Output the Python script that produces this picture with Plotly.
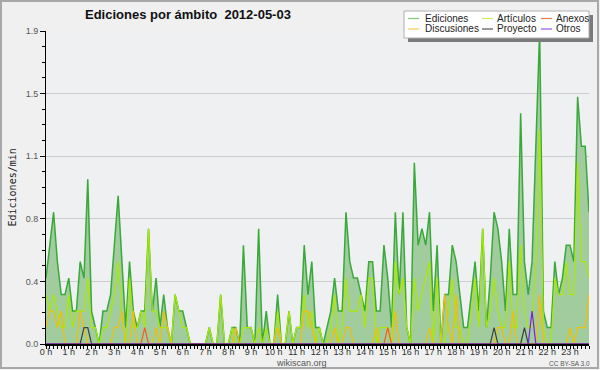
import plotly.graph_objects as go

# ---- data (values per 10-minute slot, edits/min) ----
hour_labels = [f"{h} h" for h in range(24)]
slots = [i / 6 for i in range(144)]  # hours

ediciones = [
    0.4, 0.6, 0.8, 0.5, 0.3, 0.3, 0.4, 0.2, 0.2, 0.5, 0.4, 1.0,
    0.2, 0.1, 0.0, 0.2, 0.2, 0.3, 0.6, 0.9, 0.5, 0.1, 0.5, 0.2,
    0.1, 0.2, 0.2, 0.7, 0.2, 0.4, 0.1, 0.3, 0.1, 0.0, 0.3, 0.2,
    0.2, 0.1, 0.0, 0.0, 0.0, 0.0, 0.0, 0.1, 0.0, 0.0, 0.3, 0.0,
    0.0, 0.1, 0.1, 0.0, 0.6, 0.1, 0.1, 0.0, 0.7, 0.0, 0.2, 0.0,
    0.0, 0.3, 0.0, 0.0, 0.2, 0.0, 0.1, 0.1, 0.6, 0.3, 0.5, 0.1,
    0.1, 0.0, 0.1, 0.2, 0.4, 0.2, 0.2, 0.8, 0.5, 0.4, 0.4, 0.3,
    0.2, 0.5, 0.5, 0.2, 0.2, 0.6, 0.4, 0.1, 0.8, 0.3, 0.8, 0.1,
    0.0, 1.1, 0.6, 0.7, 0.6, 0.8, 0.2, 0.6, 0.0, 0.3, 0.3, 0.6,
    0.5, 0.3, 0.1, 0.1, 0.3, 0.5, 0.2, 0.7, 0.1, 0.4, 0.8, 0.7,
    0.5, 0.2, 0.7, 0.3, 0.3, 1.4, 0.5, 0.3, 0.5, 1.2, 1.9, 0.2,
    0.1, 0.1, 0.5, 0.3, 0.4, 0.6, 0.6, 0.5, 1.5, 1.2, 1.2, 0.8,
]
articulos = [
    0.3, 0.2, 0.3, 0.2, 0.1, 0.1, 0.3, 0.1, 0.2, 0.2, 0.2, 0.4,
    0.1, 0.1, 0.0, 0.1, 0.1, 0.2, 0.3, 0.5, 0.2, 0.0, 0.4, 0.1,
    0.1, 0.2, 0.1, 0.7, 0.2, 0.2, 0.1, 0.1, 0.1, 0.0, 0.3, 0.2,
    0.1, 0.1, 0.0, 0.0, 0.0, 0.0, 0.0, 0.1, 0.0, 0.0, 0.3, 0.0,
    0.0, 0.1, 0.0, 0.0, 0.1, 0.1, 0.1, 0.0, 0.1, 0.0, 0.1, 0.0,
    0.0, 0.2, 0.0, 0.0, 0.2, 0.0, 0.1, 0.1, 0.3, 0.1, 0.2, 0.0,
    0.1, 0.0, 0.0, 0.1, 0.3, 0.0, 0.1, 0.4, 0.2, 0.2, 0.2, 0.3,
    0.1, 0.4, 0.4, 0.0, 0.1, 0.1, 0.1, 0.0, 0.5, 0.3, 0.4, 0.1,
    0.0, 0.4, 0.2, 0.3, 0.4, 0.5, 0.0, 0.4, 0.0, 0.0, 0.2, 0.4,
    0.1, 0.1, 0.0, 0.0, 0.2, 0.4, 0.1, 0.7, 0.1, 0.2, 0.4, 0.2,
    0.1, 0.1, 0.5, 0.1, 0.1, 0.6, 0.2, 0.1, 0.1, 0.5, 1.3, 0.1,
    0.0, 0.0, 0.4, 0.3, 0.3, 0.5, 0.3, 0.3, 1.1, 0.5, 0.5, 0.4,
]
discusiones = [
    0.1, 0.2, 0.2, 0.1, 0.2, 0.0, 0.0, 0.0, 0.0, 0.2, 0.1, 0.0,
    0.0, 0.0, 0.0, 0.0, 0.0, 0.0, 0.1, 0.1, 0.2, 0.0, 0.0, 0.2,
    0.0, 0.0, 0.0, 0.0, 0.0, 0.1, 0.0, 0.2, 0.1, 0.0, 0.0, 0.0,
    0.0, 0.0, 0.0, 0.0, 0.0, 0.0, 0.0, 0.0, 0.0, 0.0, 0.0, 0.0,
    0.0, 0.0, 0.1, 0.0, 0.0, 0.0, 0.0, 0.0, 0.0, 0.0, 0.0, 0.0,
    0.0, 0.1, 0.0, 0.0, 0.0, 0.0, 0.0, 0.0, 0.2, 0.2, 0.1, 0.0,
    0.0, 0.0, 0.0, 0.0, 0.1, 0.0, 0.0, 0.1, 0.1, 0.0, 0.0, 0.0,
    0.0, 0.0, 0.0, 0.1, 0.0, 0.0, 0.0, 0.0, 0.2, 0.0, 0.0, 0.0,
    0.0, 0.0, 0.0, 0.0, 0.0, 0.1, 0.0, 0.0, 0.0, 0.3, 0.1, 0.0,
    0.3, 0.0, 0.0, 0.0, 0.0, 0.0, 0.0, 0.0, 0.0, 0.0, 0.0, 0.1,
    0.1, 0.0, 0.0, 0.2, 0.0, 0.0, 0.0, 0.0, 0.0, 0.0, 0.3, 0.0,
    0.0, 0.0, 0.0, 0.0, 0.0, 0.0, 0.1, 0.0, 0.1, 0.1, 0.1, 0.3,
]
anexos = [0.0] * 144
for k in (26, 90):
    anexos[k] = 0.1
proyecto = [0.0] * 144
for k in (10, 11, 118, 126):
    proyecto[k] = 0.1
otros = [0.0] * 144
otros[128] = 0.2

series = [
    ("Ediciones", ediciones, "#3aa83a", 1.5),
    ("Artículos", articulos, "#aaea00", 1.2),
    ("Discusiones", discusiones, "#f2c000", 1.2),
    ("Anexos", anexos, "#ff5a1a", 1.2),
    ("Proyecto", proyecto, "#404040", 1.2),
    ("Otros", otros, "#7a1cf0", 1.2),
]

y_tickvals = [0, 0.38, 0.76, 1.14, 1.52, 1.9]
y_ticktext = ["0.0", "0.4", "0.8", "1.1", "1.5", "1.9"]

# ---- figure ----
W, H = 600, 370
L, R, T, B = 46, 11, 31, 26
PW, PH = W - L - R, H - T - B


def px(x):
    return (x - L) / PW


def py(y):
    return (H - B - y) / PH


fig = go.Figure()
for name, vals, color, width in series:
    kw = {}
    if name == "Ediciones":
        kw = dict(fill="tozeroy", fillcolor="#a0cc9e")
    fig.add_trace(go.Scatter(
        x=slots, y=vals, mode="lines", name=name,
        line=dict(color=color, width=width), hoverinfo="skip",
        showlegend=False, **kw))

fig.update_layout(
    width=W, height=H,
    margin=dict(l=L, r=R, t=T, b=B, pad=0),
    paper_bgcolor="#f0f0f0", plot_bgcolor="#eff0f2",
    font=dict(family="Liberation Sans, Arial, sans-serif", size=9, color="#444"),
)
fig.update_xaxes(
    range=[0, 143 / 6], tickmode="array", tickvals=list(range(24)),
    ticktext=hour_labels, ticks="outside", ticklen=3, tickcolor="#000",
    showline=True, linecolor="#000", linewidth=2, showgrid=False,
    zeroline=False, tickfont=dict(size=9, color="#333"),
    ticklabelstandoff=-5,
    minor=dict(tickmode="linear", tick0=0, dtick=1 / 6, ticks="outside",
               ticklen=3, tickcolor="#000", showgrid=False),
)
fig.update_yaxes(
    range=[0, 1.9], tickmode="array", tickvals=y_tickvals, ticktext=y_ticktext,
    ticks="outside", ticklen=5, tickcolor="#000", showline=True,
    linecolor="#000", linewidth=1, showgrid=True, gridcolor="#cdcdcd",
    gridwidth=1, zeroline=False, tickfont=dict(size=9, color="#555"),
    minor=dict(tickmode="linear", tick0=0, dtick=0.095, ticks="outside",
               ticklen=3, tickcolor="#000", showgrid=False),
)

ann = []
ann.append(dict(x=px(188), y=py(14), xref="paper", yref="paper",
                text="<b>Ediciones por ámbito\u00a0\u00a02012-05-03</b>",
                showarrow=False, xanchor="center", yanchor="middle",
                font=dict(family="Liberation Sans, Arial", size=13, color="#111")))
ann.append(dict(x=px(12), y=0.5, xref="paper", yref="paper",
                text="Ediciones/min", textangle=-90, showarrow=False,
                xanchor="center", yanchor="middle",
                font=dict(family="DejaVu Sans Mono, monospace", size=10, color="#222")))
ann.append(dict(x=px(301), y=py(362.5), xref="paper", yref="paper",
                text="wikiscan.org", showarrow=False, xanchor="center",
                yanchor="middle", font=dict(size=9, color="#555")))
ann.append(dict(x=px(569), y=py(363), xref="paper", yref="paper",
                text="CC BY-SA 3.0", showarrow=False, xanchor="center",
                yanchor="middle", font=dict(size=6.5, color="#555")))

shapes = []
# outer border
shapes.append(dict(type="rect", xref="paper", yref="paper",
                   x0=px(1), x1=px(598), y0=py(1), y1=py(368),
                   line=dict(color="#a8a8a8", width=2), fillcolor="rgba(0,0,0,0)",
                   layer="above"))
# legend shadow and box
shapes.append(dict(type="rect", xref="paper", yref="paper",
                   x0=px(408), x1=px(593), y0=py(15), y1=py(42),
                   line=dict(width=0), fillcolor="#7a7a7a", layer="above"))
shapes.append(dict(type="rect", xref="paper", yref="paper",
                   x0=px(404), x1=px(589), y0=py(11), y1=py(38),
                   line=dict(color="#b0b0b0", width=1), fillcolor="#ffffff",
                   layer="above"))

legend_layout = {
    "Ediciones": (408, 424, 18.5),
    "Artículos": (482, 496, 18.5),
    "Anexos": (541, 555, 18.5),
    "Discusiones": (408, 424, 29),
    "Proyecto": (482, 496, 29),
    "Otros": (541, 555, 29),
}
legend_colors = {
    "Ediciones": "#7ccc7c", "Artículos": "#cdee55", "Anexos": "#f07a48",
    "Discusiones": "#f5ca50", "Proyecto": "#555555", "Otros": "#9a55ee",
}
for name, vals, color, width in series:
    lx, tx, ty = legend_layout[name]
    shapes.append(dict(type="line", xref="paper", yref="paper",
                       x0=px(lx), x1=px(lx + 11), y0=py(ty), y1=py(ty),
                       line=dict(color=legend_colors[name], width=1.2), layer="above"))
    ann.append(dict(x=px(tx - 1), y=py(ty), xref="paper", yref="paper",
                    text=name, showarrow=False, xanchor="left", yanchor="middle",
                    font=dict(size=10, color="#222")))

fig.update_layout(annotations=ann, shapes=shapes)
fig.write_html("out.html", config={"displayModeBar": False, "staticPlot": True},
               post_script="document.body.style.margin='0px';document.body.style.padding='0px';")
